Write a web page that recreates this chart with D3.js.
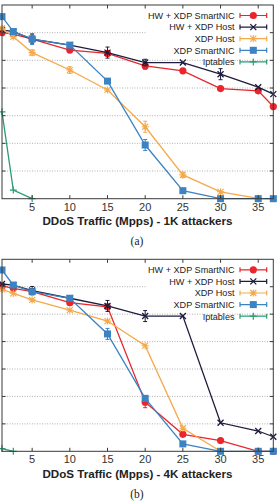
<!DOCTYPE html>
<head>
    <script src="https://d3js.org/d3.v7.min.js"></script>
</head>

<body style="margin:0; background:#fff">
    <svg width="279" height="501"></svg>

    <script>
        // x values (Mpps) and labels
        var traffic = [1, 2.5, 5, 10, 15, 20, 25, 30, 35, 37];
        var xTicks = [5, 10, 15, 20, 25, 30, 35];
        var yGrid = [1, 2, 3, 4, 5, 6];
        var seriesNames = ["HW + XDP SmartNIC", "HW + XDP Host", "XDP Host", "XDP SmartNIC", "Iptables"];
        var seriesColors = ["#e8262b", "#1c1c3c", "#f4a94a", "#3b83c2", "#2a9d72"];
        var seriesMarks = ["circle", "cross", "star", "square", "plus"];

        // (a) 1K attackers
        var hwNic1k   = [6.0, 5.95, 5.77, 5.37, 5.25, 4.8, 4.62, 3.98, 3.9, 3.33];
        var hwHost1k  = [6.1, 6.04, 5.77, 5.55, 5.28, 4.92, 4.92, 4.5, 4.03, 3.78];
        var xdpHost1k = [6.16, 5.85, 5.28, 4.65, 3.93, 2.6, 0.86, 0.25, 0.01, 0];
        var xdpNic1k  = [6.58, 6.04, 5.77, 5.55, 4.25, 1.94, 0.29, 0, 0, 0];
        var ipt1k     = [3.14, 0.31, 0, null, null, null, null, null, null, null];
        var err1k = [
            [0, 0, 0, 0, 0, 0.12, 0, 0, 0, 0],
            [0, 0, 0.15, 0, 0.2, 0.12, 0, 0.2, 0, 0],
            [0, 0, 0.1, 0.12, 0, 0.2, 0.1, 0, 0, 0],
            [0, 0, 0.2, 0, 0, 0.2, 0, 0, 0, 0],
            [0, 0, 0, 0, 0, 0, 0, 0, 0, 0]
        ];

        // (b) 4K attackers
        var hwNic4k   = [6.03, 5.94, 5.82, 5.42, 5.27, 1.79, 0.62, 0.39, 0, 0];
        var hwHost4k  = [6.1, 6.06, 5.86, 5.58, 5.3, 4.93, 4.93, 1.04, 0.74, 0.53];
        var xdpHost4k = [5.9, 5.76, 5.52, 5.15, 4.75, 3.85, 0.84, 0, null, null];
        var xdpNic4k  = [6.61, 6.06, 5.82, 5.58, 4.28, 1.93, 0.27, 0, 0, 0];
        var ipt4k     = [0.1, 0, null, null, null, null, null, null, null, null];
        var err4k = [
            [0, 0, 0, 0, 0.1, 0.2, 0, 0, 0, 0],
            [0, 0, 0.15, 0, 0.2, 0.2, 0, 0, 0, 0],
            [0, 0, 0, 0, 0, 0, 0, 0, 0, 0],
            [0, 0, 0, 0, 0.2, 0, 0, 0, 0, 0],
            [0, 0, 0, 0, 0, 0, 0, 0, 0, 0]
        ];

        var svg = d3.select("svg");
        var FRAME = "#3a3a3a";

        var x = d3.scaleLinear().domain([1, 37]).range([2, 273.3]);

        function drawMarker(g, kind, color) {
            if (kind == "circle") {
                g.append("circle").attr("r", 3.6).attr("fill", color);
            } else if (kind == "square") {
                g.append("rect").attr("x", -3.5).attr("y", -3.5).attr("width", 7).attr("height", 7).attr("fill", color);
            } else if (kind == "cross") {
                g.append("path").attr("d", "M-3,-3L3,3M-3,3L3,-3").attr("stroke", color).attr("stroke-width", 1.3);
            } else if (kind == "star") {
                g.append("path").attr("d", "M-3,-3L3,3M-3,3L3,-3M-3.6,0L3.6,0M0,-3.6L0,3.6").attr("stroke", color).attr("stroke-width", 1.1);
            } else {
                g.append("path").attr("d", "M-3.5,0L3.5,0M0,-3.5L0,3.5").attr("stroke", color).attr("stroke-width", 1.2);
            }
        }

        function drawChart(top, bottom, series, errs, title, label) {
            var y = d3.scaleLinear().domain([0, 7]).range([bottom, top]);
            var g = svg.append("g");

            // grid (first line is hidden by the key box on the right)
            g.selectAll(".grid")
                .data(yGrid)
                .enter().append("line")
                .attr("x1", x.range()[0])
                .attr("x2", function(d) { return d == 6 ? 146 : x.range()[1]; })
                .attr("y1", y).attr("y2", y)
                .attr("stroke", "#a0a0a0")
                .attr("stroke-width", 0.8)
                .attr("stroke-dasharray", "1,1.5");

            // series
            var line = d3.line()
                .defined(function(d) { return d != null; })
                .x(function(d, i) { return x(traffic[i]); })
                .y(function(d) { return y(d); });

            series.forEach(function(vals, s) {
                var c = seriesColors[s];
                g.append("path")
                    .attr("d", line(vals))
                    .attr("fill", "none")
                    .attr("stroke", c)
                    .attr("stroke-width", 1.3);

                vals.forEach(function(v, i) {
                    if (v == null) return;
                    var e = errs[s][i];
                    if (e > 0) {
                        var lo = Math.max(0, v - e), hi = v + e;
                        g.append("path")
                            .attr("d", "M" + x(traffic[i]) + "," + y(lo) + "V" + y(hi) +
                                "M" + (x(traffic[i]) - 2) + "," + y(lo) + "h4" +
                                "M" + (x(traffic[i]) - 2) + "," + y(hi) + "h4")
                            .attr("stroke", c)
                            .attr("stroke-width", 1)
                            .attr("fill", "none");
                    }
                    var m = g.append("g").attr("transform", "translate(" + x(traffic[i]) + "," + y(v) + ")");
                    drawMarker(m, seriesMarks[s], c);
                });
            });

            // key
            var key = g.append("g");
            key.append("rect")
                .attr("x", 147).attr("y", top + 1)
                .attr("width", 125).attr("height", 50)
                .attr("fill", "#fff");
            seriesNames.forEach(function(name, s) {
                var ky = top + 10.5 + s * 11.6;
                key.append("text")
                    .attr("x", 234.5).attr("y", ky + 3.3)
                    .attr("text-anchor", "end")
                    .attr("font-family", "Liberation Sans, Arial, sans-serif")
                    .attr("font-size", "9.1px")
                    .attr("fill", "#222")
                    .text(name);
                key.append("path")
                    .attr("d", "M240," + ky + "H266.7M240," + (ky - 2.5) + "V" + (ky + 2.5) +
                        "M266.7," + (ky - 2.5) + "V" + (ky + 2.5))
                    .attr("stroke", seriesColors[s])
                    .attr("stroke-width", 1.2);
                var m = key.append("g").attr("transform", "translate(253.3," + ky + ")");
                drawMarker(m, seriesMarks[s], seriesColors[s]);
            });

            // frame
            g.append("rect")
                .attr("x", x.range()[0]).attr("y", top)
                .attr("width", x.range()[1] - x.range()[0])
                .attr("height", bottom - top)
                .attr("fill", "none")
                .attr("stroke", FRAME)
                .attr("stroke-width", 1);

            // ticks, inward on all sides
            xTicks.forEach(function(t) {
                g.append("path")
                    .attr("d", "M" + x(t) + "," + bottom + "v-3.5M" + x(t) + "," + top + "v3.5")
                    .attr("stroke", FRAME);
            });
            yGrid.forEach(function(t) {
                g.append("path")
                    .attr("d", "M" + x.range()[0] + "," + y(t) + "h3.5M" + x.range()[1] + "," + y(t) + "h-3.5")
                    .attr("stroke", FRAME);
            });

            g.selectAll(".xlab")
                .data(xTicks)
                .enter().append("text")
                .attr("x", x)
                .attr("y", bottom + 12)
                .attr("text-anchor", "middle")
                .attr("font-family", "Liberation Sans, Arial, sans-serif")
                .attr("font-size", "11px")
                .attr("fill", "#333")
                .text(function(d) { return d; });

            g.append("text")
                .attr("x", 137.5)
                .attr("y", bottom + 26.5)
                .attr("text-anchor", "middle")
                .attr("font-family", "Liberation Sans, Arial, sans-serif")
                .attr("font-weight", "bold")
                .attr("font-size", "11.6px")
                .attr("fill", "#222")
                .text(title);

            g.append("text")
                .attr("x", 137)
                .attr("y", bottom + 46.3)
                .attr("text-anchor", "middle")
                .attr("font-family", "Liberation Serif, Times New Roman, serif")
                .attr("font-size", "11.5px")
                .attr("fill", "#222")
                .text(label);
        }

        drawChart(5, 198.7, [hwNic1k, hwHost1k, xdpHost1k, xdpNic1k, ipt1k], err1k,
            "DDoS Traffic (Mpps) - 1K attackers", "(a)");
        drawChart(259.3, 451.3, [hwNic4k, hwHost4k, xdpHost4k, xdpNic4k, ipt4k], err4k,
            "DDoS Traffic (Mpps) - 4K attackers", "(b)");
    </script>
</body>
